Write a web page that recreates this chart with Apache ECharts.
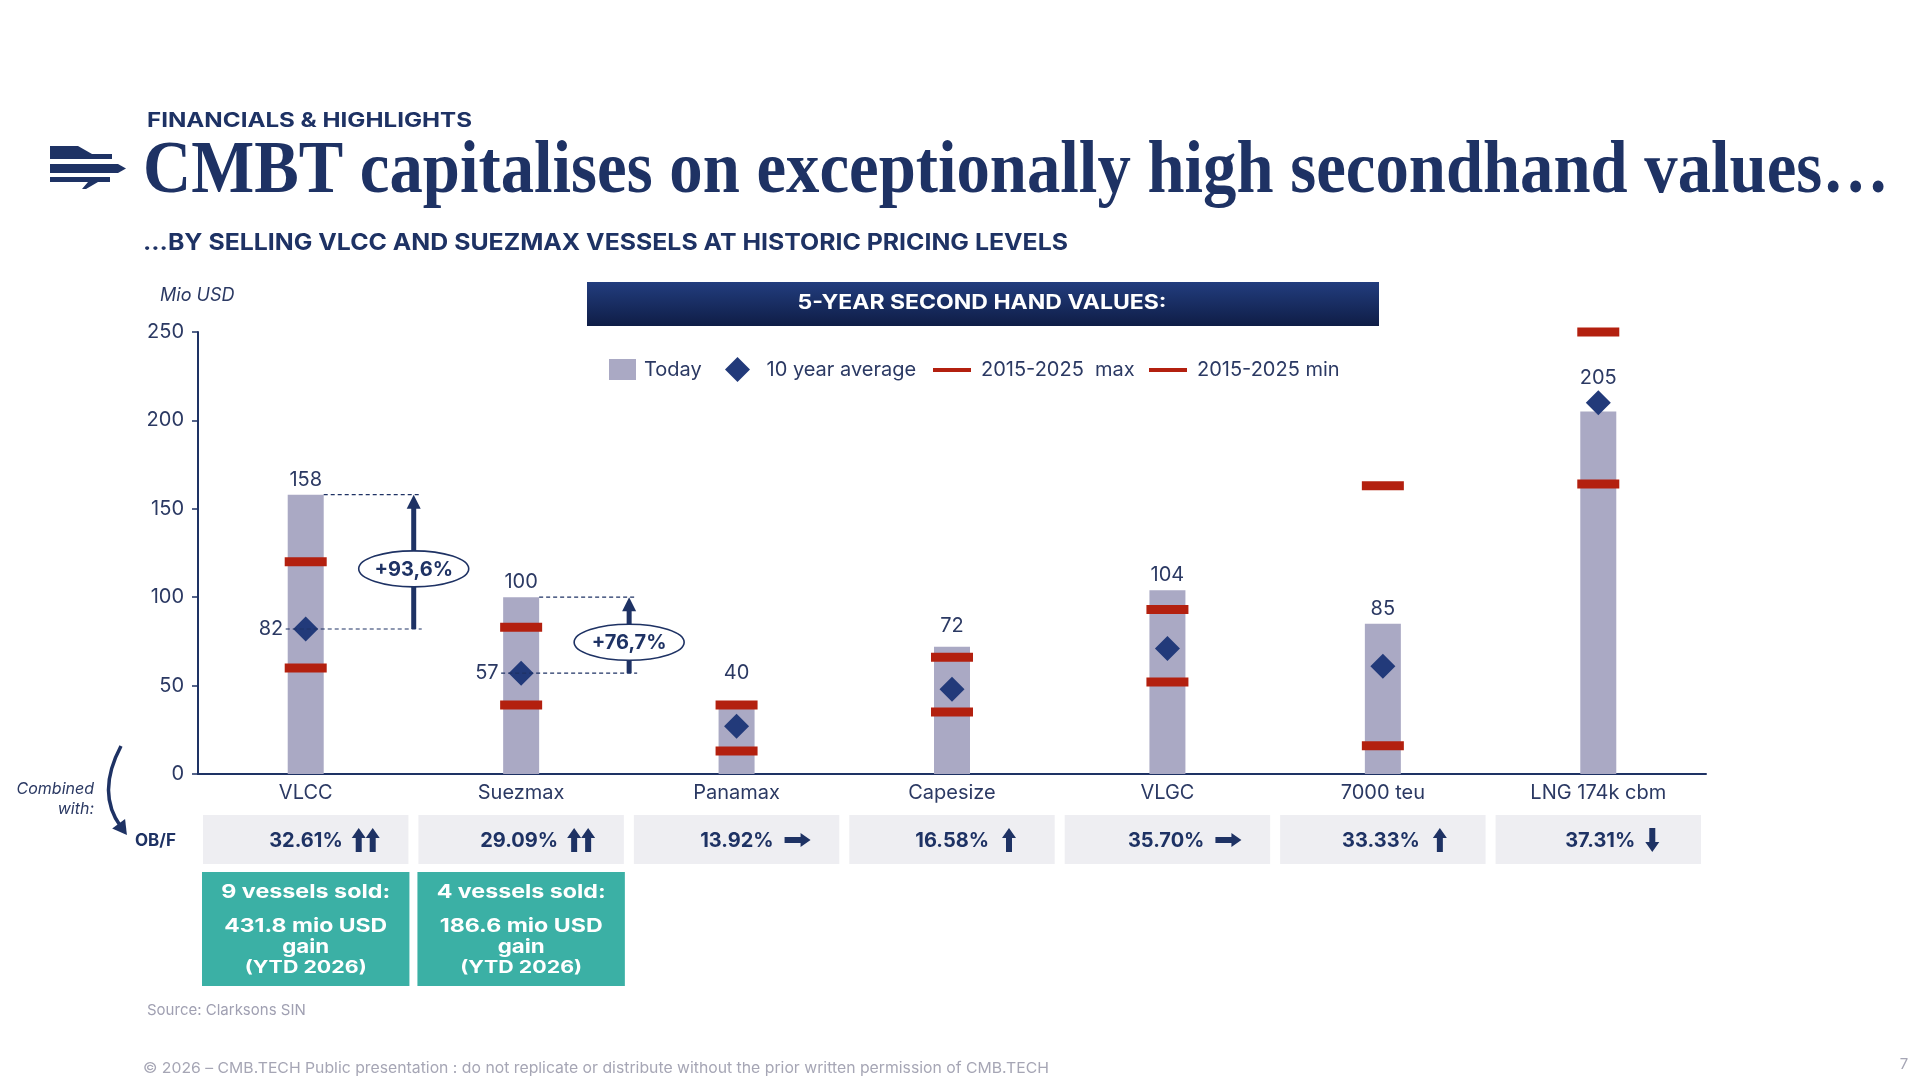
<!DOCTYPE html>
<html><head><meta charset="utf-8">
<script src="https://cdn.jsdelivr.net/npm/echarts@6/dist/echarts.min.js"></script>
<style>html,body{margin:0;padding:0;background:#fff}#main{width:1920px;height:1080px}</style>
</head><body><div id="main"></div>
<script>
// ---------- DATA ----------
const categories = ['VLCC', 'Suezmax', 'Panamax', 'Capesize', 'VLGC', '7000 teu', 'LNG 174k cbm'];
const todayValues = [158, 100, 40, 72, 104, 85, 205];
const avgValues = [82, 57, 27, 48, 71, 61, 210];
const maxValues = [120, 83, 39, 66, 93, 163, 250];
const minValues = [60, 39, 13, 35, 52, 16, 164];
const yTicks = [0, 50, 100, 150, 200, 250];
const obfValues = ['32.61%', '29.09%', '13.92%', '16.58%', '35.70%', '33.33%', '37.31%'];
const obfTrends = ['upup', 'upup', 'right', 'up', 'right', 'up', 'down'];
const gainLabels = ['+93,6%', '+76,7%'];
const soldLines = [
  ['9 vessels sold:', '431.8 mio USD', 'gain', '(YTD 2026)'],
  ['4 vessels sold:', '186.6 mio USD', 'gain', '(YTD 2026)']
];
const seriesNames = ['Today', '10 year average', '2015-2025  max', '2015-2025 min'];

// ---------- STYLE ----------
const NAVY = '#1e3264', TXT = '#2b3963', BAR = '#aaa9c4', RED = '#b3200f', DIA = '#223a7a';
const GREY_BOX = '#eeeef2', TEAL = '#3bb0a5', FOOT = '#a6a6b5';
// label distance above bars (px), per category index where it differs from default
const labelDistance = { 2: 20, 3: 11, 6: 24 };

const chart = echarts.init(document.getElementById('main'), null, { renderer: 'canvas' });
const legendText = (pad) => ({ color: TXT, fontSize: 20, fontFamily: 'Inter', padding: [0, 0, 0, pad] });
const option = {
  backgroundColor: '#ffffff',
  animation: false,
  textStyle: { fontFamily: 'Inter' },
  grid: { left: 198, right: 214, top: 332, bottom: 306 },
  legend: [
    { data: [{ name: seriesNames[0], icon: 'rect' }], left: 609, top: 359, padding: 0, itemWidth: 27, itemHeight: 21, textStyle: legendText(3), selectedMode: false },
    { data: [{ name: seriesNames[1], icon: 'path://M0,-1L1,0L0,1L-1,0Z' }], left: 725, top: 357, padding: 0, itemWidth: 40, itemHeight: 25, symbolKeepAspect: true, textStyle: legendText(4), selectedMode: false },
    { data: [{ name: seriesNames[2], icon: 'rect' }], left: 933, top: 360, padding: 0, itemWidth: 38, itemHeight: 4, textStyle: legendText(5), selectedMode: false },
    { data: [{ name: seriesNames[3], icon: 'rect' }], left: 1149, top: 360, padding: 0, itemWidth: 38, itemHeight: 4, textStyle: legendText(5), selectedMode: false }
  ],
  xAxis: {
    type: 'category', data: categories,
    axisLine: { lineStyle: { color: NAVY, width: 2 } },
    axisTick: { show: false },
    axisLabel: { color: TXT, fontSize: 20, margin: 9, fontFamily: 'Inter' }
  },
  yAxis: {
    type: 'value', min: yTicks[0], max: yTicks[yTicks.length - 1], interval: yTicks[1] - yTicks[0],
    axisLine: { show: true, lineStyle: { color: NAVY, width: 2 } },
    axisTick: { show: true, length: 6, lineStyle: { color: NAVY, width: 1.5 } },
    splitLine: { show: false },
    axisLabel: { color: TXT, fontSize: 20, margin: 14, fontFamily: 'Inter' }
  },
  series: [
    {
      name: seriesNames[0], type: 'bar', barWidth: 36, z: 2,
      itemStyle: { color: BAR, opacity: 1 },
      label: { show: true, position: 'top', distance: 5, color: TXT, fontSize: 20, fontFamily: 'Inter' },
      data: todayValues.map((v, i) => labelDistance[i] ? { value: v, label: { distance: labelDistance[i] } } : v)
    },
    {
      name: seriesNames[1], type: 'scatter', symbol: 'diamond', symbolSize: 25, z: 5,
      itemStyle: { color: DIA, opacity: 1 },
      label: { show: false, position: 'left', distance: 10, color: TXT, fontSize: 20, fontFamily: 'Inter', formatter: p => p.value[1] },
      data: avgValues.map((v, i) => i < gainLabels.length ? { value: [i, v], label: { show: true } } : [i, v])
    },
    {
      name: seriesNames[2], type: 'scatter', symbol: 'rect', symbolSize: [42, 9], z: 4,
      itemStyle: { color: RED, opacity: 1 },
      data: maxValues.map((v, i) => [i, v])
    },
    {
      name: seriesNames[3], type: 'scatter', symbol: 'rect', symbolSize: [42, 9], z: 4,
      itemStyle: { color: RED, opacity: 1 },
      data: minValues.map((v, i) => [i, v])
    }
  ]
};
chart.setOption(option);

// ---------- GRAPHICS ----------
const mctx = document.createElement('canvas').getContext('2d');
function tw(text, font) { mctx.font = font; return mctx.measureText(text).width; }
function txt(text, x, y, font, color, align, targetW, extra) {
  const s = targetW ? targetW / tw(text, font) : 1;
  return Object.assign({
    type: 'text', x: x, y: y, scaleX: s, originX: 0, originY: 0, z: 100,
    style: { text: text, font: font, fill: color, align: align || 'left', textAlign: align || 'left', verticalAlign: 'middle', textVerticalAlign: 'middle' }
  }, extra || {});
}
const px = (i, v) => chart.convertToPixel({ gridIndex: 0 }, [i, v]);
const G = [];

// header
G.push(txt('FINANCIALS & HIGHLIGHTS', 147, 121, 'bold 20px Inter', NAVY, 'left', 325));
G.push(txt('CMBT capitalises on exceptionally high secondhand values…', 143, 173, 'bold 74px "Liberation Serif"', NAVY, 'left', 1746));
G.push(txt('...BY SELLING VLCC AND SUEZMAX VESSELS AT HISTORIC PRICING LEVELS', 143, 243, 'bold 23px Inter', NAVY, 'left', 925));
// logo
G.push({ type: 'polygon', z: 100, shape: { points: [[50, 146], [78, 146], [92, 154], [112, 154], [112, 159], [50, 159]] }, style: { fill: NAVY } });
G.push({ type: 'polygon', z: 100, shape: { points: [[50, 164], [118, 164], [126, 168.5], [118, 173], [50, 173]] }, style: { fill: NAVY } });
G.push({ type: 'polygon', z: 100, shape: { points: [[50, 177], [110, 177], [110, 182], [98, 182], [86, 189], [82, 189], [88, 182], [50, 182]] }, style: { fill: NAVY } });

// unit label
G.push(txt('Mio USD', 160, 296, 'italic 18px Inter', TXT, 'left'));

// banner
G.push({
  type: 'rect', z: 90, shape: { x: 587, y: 282, width: 792, height: 44 },
  style: { fill: new echarts.graphic.LinearGradient(0, 0, 0, 1, [{ offset: 0, color: '#223d7e' }, { offset: 1, color: '#0f1d46' }]) }
});
G.push(txt('5-YEAR SECOND HAND VALUES:', 982, 303, 'bold 20px Inter', '#ffffff', 'center', 369));

// annotations (gain arrows)
gainLabels.forEach((lab, i) => {
  const cx = px(i, 0)[0];
  const yTop = px(i, todayValues[i])[1];
  const yAvg = px(i, avgValues[i])[1];
  const ax = cx + 108;
  G.push({ type: 'line', z: 95, shape: { x1: cx + 18, y1: yTop, x2: ax + 8, y2: yTop }, style: { stroke: NAVY, lineWidth: 1.2, lineDash: [4, 3] } });
  G.push({ type: 'line', z: 95, shape: { x1: cx - 20, y1: yAvg, x2: ax + 8, y2: yAvg }, style: { stroke: NAVY, lineWidth: 1.2, lineDash: [4, 3] } });
  G.push({ type: 'rect', z: 96, shape: { x: ax - 2.5, y: yTop + 12, width: 5, height: yAvg - yTop - 12 }, style: { fill: NAVY } });
  G.push({ type: 'polygon', z: 96, shape: { points: [[ax, yTop], [ax + 7, yTop + 14], [ax - 7, yTop + 14]] }, style: { fill: NAVY } });
  const ey = (yTop + yAvg) / 2 + 7;
  G.push({ type: 'ellipse', z: 97, shape: { cx: ax, cy: ey, rx: 55, ry: 18 }, style: { fill: '#ffffff', stroke: NAVY, lineWidth: 1.6 } });
  G.push(txt(lab, ax, ey + 1, 'bold 20px Inter', NAVY, 'center', null, { z: 98 }));
});

// OB/F row
const band = px(1, 0)[0] - px(0, 0)[0];
function upArrow(cx, cy, dir) {
  const h = 24, w = 14, hh = 10, sw = 3;
  const t = cy - dir * h / 2, b = cy + dir * h / 2, hb = t + dir * hh;
  return [[cx, t], [cx + w / 2, hb], [cx + sw, hb], [cx + sw, b], [cx - sw, b], [cx - sw, hb], [cx - w / 2, hb]];
}
function rightArrow(cx, cy) {
  const w = 26, h = 14, hw = 10, sw = 3;
  const r = cx + w / 2, l = cx - w / 2, hb = r - hw;
  return [[r, cy], [hb, cy + h / 2], [hb, cy + sw], [l, cy + sw], [l, cy - sw], [hb, cy - sw], [hb, cy - h / 2]];
}
obfValues.forEach((val, i) => {
  const cx = px(i, 0)[0];
  const bw = band - 10;
  G.push({ type: 'rect', z: 90, shape: { x: cx - bw / 2, y: 815, width: bw, height: 49 }, style: { fill: GREY_BOX } });
  G.push(txt(val, cx + 37, 841, 'bold 20px Inter', NAVY, 'right'));
  const tr = obfTrends[i], cy = 840;
  let polys = [];
  if (tr === 'upup') polys = [upArrow(cx + 53, cy, 1), upArrow(cx + 67, cy, 1)];
  else if (tr === 'up') polys = [upArrow(cx + 57, cy, 1)];
  else if (tr === 'down') polys = [upArrow(cx + 54, cy, -1)];
  else polys = [rightArrow(cx + 61, cy)];
  polys.forEach(p => G.push({ type: 'polygon', z: 100, shape: { points: p }, style: { fill: NAVY } }));
});
G.push(txt('OB/F', 135, 841, 'bold 17px Inter', NAVY, 'left'));
G.push(txt('Combined', 94, 789, 'italic 16px Inter', TXT, 'right'));
G.push(txt('with:', 94, 809, 'italic 16px Inter', TXT, 'right'));
// curved arrow
(function () {
  const x1 = 121, y1 = 746, cpx = 96, cpy = 793, x2 = 121, y2 = 827;
  G.push({ type: 'bezierCurve', z: 100, shape: { x1: x1, y1: y1, cpx1: cpx, cpy1: cpy, x2: x2, y2: y2 }, style: { stroke: NAVY, lineWidth: 3.5, fill: null } });
  let dx = x2 - cpx, dy = y2 - cpy; const L = Math.hypot(dx, dy); dx /= L; dy /= L;
  const tip = [x2 + dx * 10, y2 + dy * 10], bc = [x2 - dx * 4, y2 - dy * 4];
  G.push({ type: 'polygon', z: 100, shape: { points: [tip, [bc[0] + dy * 8, bc[1] - dx * 8], [bc[0] - dy * 8, bc[1] + dx * 8]] }, style: { fill: NAVY } });
})();

// sold boxes
soldLines.forEach((lines, i) => {
  const cx = px(i, 0)[0];
  const bw = band - 8;
  G.push({ type: 'rect', z: 90, shape: { x: cx - bw / 2, y: 872, width: bw, height: 114 }, style: { fill: TEAL } });
  const ys = [892, 926, 947, 968];
  const fonts = ['bold 19px Inter', 'bold 19px Inter', 'bold 19px Inter', 'bold 17px Inter'];
  const widths = [169, 163, 47, 122];
  lines.forEach((l, k) => G.push(txt(l, cx, ys[k], fonts[k], '#ffffff', 'center', widths[k])));
});

// footer
G.push(txt('Source: Clarksons SIN', 147, 1010, '15px Inter', '#a0a0b2', 'left'));
G.push(txt('© 2026 – CMB.TECH Public presentation : do not replicate or distribute without the prior written permission of CMB.TECH', 143, 1068, '15px Inter', FOOT, 'left', 906));
G.push(txt('7', 1904, 1064, '15px Inter', FOOT, 'center'));

chart.setOption({ graphic: { elements: G } });
</script>
</body></html>
